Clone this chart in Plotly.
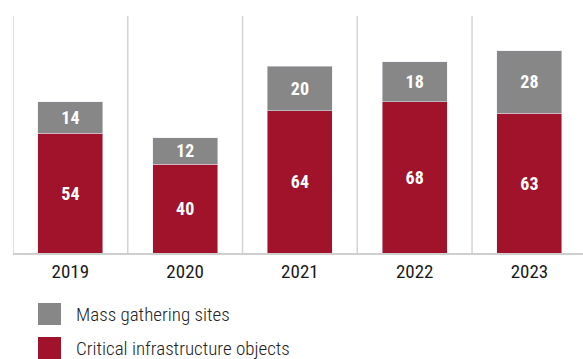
import plotly.graph_objects as go

years = ["2019", "2020", "2021", "2022", "2023"]
critical = [54, 40, 64, 68, 63]
mass = [14, 12, 20, 18, 28]
series_names = ["Mass gathering sites", "Critical infrastructure objects"]
RED = "#A0132B"
GRAY = "#878787"
FONT = "Roboto Condensed, sans-serif"

fig = go.Figure()
fig.add_bar(x=years, y=critical, name=series_names[1], marker_color=RED,
            text=[str(v) for v in critical], textposition="inside",
            insidetextanchor="middle", textangle=0,
            textfont=dict(color="white", size=18, family=FONT, weight="bold"),
            width=0.567, showlegend=False)
fig.add_bar(x=years, y=mass, name=series_names[0], marker_color=GRAY,
            text=[str(v) for v in mass], textposition="inside",
            insidetextanchor="middle", textangle=0,
            textfont=dict(color="white", size=18, family=FONT, weight="bold"),
            width=0.567, showlegend=False)

# category separators
for k in range(len(years)):
    fig.add_shape(type="line", xref="x", yref="paper", x0=k - 0.5, x1=k - 0.5,
                  y0=0, y1=1, line=dict(color="#d4d4d4", width=1.5), layer="below")

# manual legend
legend_items = [(series_names[0], GRAY, 0), (series_names[1], RED, 1)]
for name, col, i in legend_items:
    y0 = 303 + i * 34
    fig.add_shape(type="rect", xref="paper", yref="paper",
                  x0=(38 - 13) / 570, x1=(61 - 13) / 570,
                  y0=(253 - (y0 + 22)) / 237, y1=(253 - y0) / 237,
                  fillcolor=col, line_width=0)
    fig.add_annotation(xref="paper", yref="paper", x=(74 - 13) / 570,
                       y=(253 - (y0 + 11)) / 237, text=name, showarrow=False,
                       xanchor="left", yanchor="middle",
                       font=dict(size=19, color="#222", family=FONT, weight=300))

fig.update_layout(
    barmode="stack", width=583, height=359,
    margin=dict(l=13, r=0, t=16, b=106),
    plot_bgcolor="white", paper_bgcolor="white",
    xaxis=dict(type="category", range=[-0.5, 4.467], showgrid=False,
               showline=True, linecolor="#cfcfcf", linewidth=2,
               ticks="", tickfont=dict(size=19, color="#1a1a1a", family=FONT)),
    yaxis=dict(range=[0, 106.7], visible=False, showgrid=False, zeroline=False),
)
fig.write_html("out.html")
